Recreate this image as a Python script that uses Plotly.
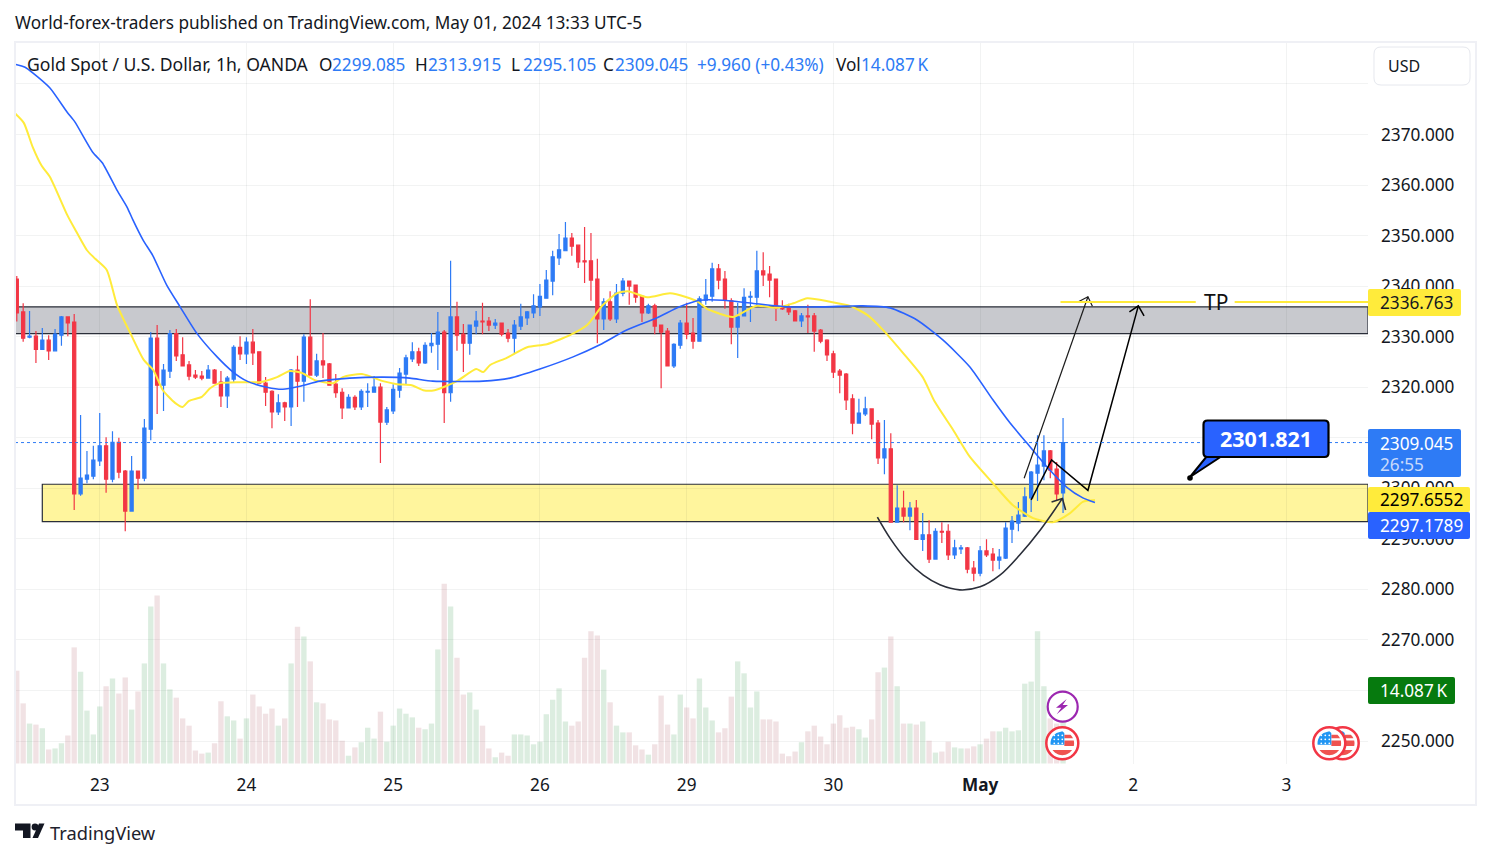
import math
import plotly.graph_objects as go

# hourly candles
opens = [
    2341.4, 2334.9, 2329.9, 2330.1, 2327.5, 2329.3, 2327.2, 2330.3, 2333.9, 2332.9,
    2298.9, 2301.8, 2302.4, 2305.4, 2308.4, 2301.8, 2309.1, 2303.4, 2295.5, 2303.4,
    2302.0, 2311.7, 2329.7, 2320.4, 2323.2, 2330.6, 2326.4, 2324.4, 2322.4, 2322.2,
    2321.8, 2323.4, 2321.0, 2318.3, 2321.6, 2327.9, 2326.6, 2328.9, 2327.0, 2320.8,
    2319.2, 2315.1, 2316.9, 2316.1, 2323.4, 2321.2, 2329.9, 2322.4, 2325.2, 2324.6,
    2320.6, 2319.0, 2315.9, 2318.0, 2316.1, 2319.0, 2319.0, 2320.0, 2313.1, 2315.3,
    2319.4, 2322.6, 2325.6, 2327.0, 2324.8, 2328.2, 2328.5, 2330.9, 2318.9, 2333.9,
    2330.5, 2328.7, 2332.1, 2333.1, 2333.1, 2332.3, 2332.7, 2330.7, 2329.7, 2332.1,
    2333.7, 2334.7, 2335.9, 2337.6, 2341.0, 2345.6, 2347.0, 2349.5, 2348.1, 2345.0,
    2345.0, 2341.4, 2333.5, 2336.9, 2333.5, 2338.6, 2341.0, 2340.2, 2338.0, 2334.7,
    2336.1, 2332.3, 2331.1, 2324.2, 2328.3, 2332.7, 2330.7, 2329.1, 2337.2, 2338.0,
    2343.4, 2341.4, 2337.1, 2331.9, 2334.1, 2337.8, 2337.8, 2343.0, 2342.4, 2341.4,
    2335.7, 2335.9, 2335.1, 2333.1, 2334.1, 2334.1, 2331.3, 2329.3, 2326.6, 2323.2,
    2322.6, 2317.7, 2312.9, 2314.7, 2315.7, 2312.9, 2306.0, 2307.8, 2293.3, 2296.1,
    2294.5, 2296.1, 2289.9, 2290.8, 2286.0, 2291.5, 2291.5, 2286.8, 2288.0, 2288.2,
    2284.2, 2283.2, 2287.6, 2287.0, 2285.8, 2286.2, 2291.9, 2293.1, 2294.5, 2298.1,
    2303.0, 2304.4, 2307.4, 2303.8, 2299.085,
]
highs = [
    2342.0, 2336.6, 2335.1, 2331.1, 2331.7, 2330.3, 2331.5, 2334.1, 2333.9, 2334.5,
    2314.5, 2307.4, 2308.4, 2314.9, 2310.1, 2311.3, 2310.0, 2303.6, 2306.4, 2303.4,
    2313.7, 2330.9, 2332.3, 2324.6, 2331.3, 2331.5, 2329.9, 2325.2, 2323.4, 2323.2,
    2324.4, 2323.6, 2323.2, 2322.2, 2328.3, 2330.1, 2329.9, 2331.5, 2327.0, 2322.0,
    2319.4, 2318.6, 2317.1, 2323.6, 2326.2, 2330.5, 2337.4, 2326.6, 2330.7, 2324.8,
    2322.6, 2319.8, 2318.6, 2318.4, 2319.6, 2320.8, 2322.2, 2320.8, 2316.1, 2320.6,
    2323.8, 2326.4, 2328.9, 2327.8, 2328.9, 2330.7, 2334.9, 2331.3, 2345.0, 2336.9,
    2332.5, 2332.3, 2335.1, 2336.7, 2333.9, 2333.5, 2332.7, 2331.5, 2333.3, 2336.5,
    2335.1, 2338.4, 2340.4, 2343.2, 2347.0, 2350.3, 2352.7, 2350.5, 2348.1, 2351.7,
    2350.5, 2345.4, 2337.6, 2339.0, 2340.4, 2341.6, 2341.0, 2340.2, 2338.0, 2336.5,
    2336.5, 2332.3, 2331.7, 2328.7, 2333.3, 2336.7, 2333.7, 2338.0, 2341.4, 2344.6,
    2344.4, 2343.0, 2337.6, 2336.7, 2339.6, 2339.0, 2347.0, 2346.7, 2344.0, 2341.4,
    2337.2, 2336.5, 2335.3, 2334.7, 2336.3, 2334.7, 2331.5, 2329.5, 2327.2, 2323.6,
    2322.8, 2318.6, 2317.7, 2318.1, 2315.7, 2313.5, 2313.5, 2310.9, 2300.6, 2299.5,
    2297.3, 2297.7, 2295.1, 2293.7, 2292.1, 2293.3, 2292.9, 2289.8, 2288.8, 2288.4,
    2285.6, 2288.6, 2289.9, 2288.2, 2288.0, 2293.3, 2294.5, 2297.3, 2300.2, 2303.4,
    2310.5, 2310.5, 2307.6, 2305.2, 2313.915,
]
lows = [
    2333.0, 2329.0, 2329.7, 2324.8, 2327.5, 2325.4, 2327.2, 2328.2, 2330.1, 2295.7,
    2298.5, 2301.0, 2301.8, 2304.4, 2299.1, 2301.2, 2302.0, 2291.5, 2295.5, 2299.8,
    2301.4, 2309.5, 2314.7, 2315.3, 2321.8, 2325.2, 2324.2, 2321.4, 2321.6, 2321.4,
    2321.8, 2320.8, 2316.1, 2315.9, 2321.0, 2325.4, 2324.6, 2324.4, 2320.8, 2316.3,
    2311.9, 2314.5, 2313.3, 2312.3, 2316.1, 2317.1, 2322.4, 2322.0, 2321.8, 2320.4,
    2317.9, 2313.7, 2315.9, 2315.5, 2315.5, 2316.1, 2319.0, 2305.0, 2312.5, 2314.7,
    2317.9, 2320.6, 2325.0, 2324.2, 2324.6, 2326.8, 2323.4, 2312.9, 2317.1, 2327.2,
    2323.0, 2326.4, 2330.5, 2330.5, 2331.1, 2331.5, 2330.1, 2328.9, 2326.6, 2331.3,
    2332.3, 2333.7, 2334.1, 2337.5, 2338.2, 2344.2, 2347.0, 2346.0, 2343.6, 2340.6,
    2337.1, 2328.7, 2331.3, 2333.1, 2332.7, 2338.0, 2336.3, 2336.7, 2332.9, 2334.5,
    2330.5, 2319.8, 2324.2, 2323.8, 2327.6, 2329.5, 2327.6, 2329.1, 2336.3, 2336.9,
    2339.4, 2335.5, 2328.5, 2325.8, 2334.1, 2332.9, 2335.9, 2340.0, 2337.8, 2333.1,
    2335.3, 2334.3, 2333.1, 2331.9, 2330.7, 2327.0, 2328.7, 2325.2, 2321.8, 2318.8,
    2315.5, 2310.7, 2312.9, 2314.3, 2309.7, 2304.8, 2302.8, 2293.3, 2293.3, 2293.3,
    2291.7, 2289.9, 2287.6, 2285.2, 2286.0, 2289.2, 2285.8, 2286.0, 2287.0, 2283.2,
    2281.6, 2282.6, 2286.4, 2283.6, 2284.0, 2286.0, 2289.2, 2291.5, 2294.3, 2295.3,
    2297.5, 2301.6, 2302.0, 2297.7, 2295.105,
]
closes = [
    2334.7, 2329.7, 2330.1, 2327.5, 2329.3, 2327.2, 2330.5, 2333.9, 2332.7, 2298.9,
    2302.0, 2302.6, 2305.6, 2308.4, 2301.8, 2309.1, 2303.2, 2295.5, 2303.4, 2302.0,
    2311.9, 2329.7, 2320.4, 2323.4, 2330.6, 2326.2, 2324.2, 2322.2, 2322.0, 2321.8,
    2323.4, 2320.8, 2318.3, 2321.8, 2327.9, 2326.6, 2328.9, 2326.8, 2320.8, 2319.0,
    2315.1, 2316.9, 2316.1, 2323.4, 2321.2, 2329.9, 2322.4, 2325.2, 2324.4, 2320.4,
    2318.9, 2315.9, 2318.0, 2316.1, 2319.2, 2319.2, 2320.0, 2313.1, 2315.5, 2319.6,
    2322.8, 2325.8, 2327.0, 2324.8, 2328.3, 2328.7, 2330.9, 2318.9, 2333.9, 2330.3,
    2328.7, 2332.3, 2333.1, 2332.9, 2332.3, 2332.7, 2330.5, 2329.7, 2332.3, 2333.9,
    2334.9, 2336.1, 2338.0, 2341.2, 2345.8, 2347.2, 2349.5, 2347.9, 2344.8, 2344.8,
    2341.2, 2333.5, 2336.9, 2333.5, 2338.6, 2341.0, 2340.0, 2337.8, 2334.7, 2336.1,
    2332.1, 2330.9, 2324.2, 2328.5, 2332.7, 2330.5, 2329.1, 2337.5, 2338.2, 2343.4,
    2341.2, 2337.2, 2331.9, 2333.9, 2337.8, 2338.0, 2343.0, 2342.2, 2341.2, 2335.7,
    2335.5, 2334.9, 2333.1, 2334.1, 2333.9, 2331.1, 2329.1, 2326.4, 2323.0, 2322.4,
    2317.5, 2312.9, 2314.9, 2315.7, 2312.7, 2306.0, 2307.8, 2293.3, 2296.1, 2294.5,
    2296.1, 2289.9, 2290.8, 2286.0, 2291.5, 2291.3, 2286.8, 2288.2, 2288.2, 2284.0,
    2283.2, 2287.6, 2286.8, 2285.8, 2286.4, 2292.1, 2293.5, 2294.7, 2298.3, 2303.2,
    2304.6, 2307.4, 2303.6, 2298.9, 2309.045,
]
# volume in thousands
volumes = [
    17.9, 11.6, 7.7, 7.5, 6.8, 2.7, 2.9, 3.9, 5.4, 22.4,
    17.7, 10.2, 5.6, 11.0, 14.9, 16.4, 13.5, 16.6, 10.4, 13.9,
    19.3, 30.3, 32.4, 19.3, 14.3, 12.7, 8.7, 7.3, 2.5, 1.9,
    2.1, 3.9, 12.0, 9.1, 8.3, 4.8, 8.7, 13.3, 11.0, 9.6,
    10.6, 7.3, 8.7, 19.3, 26.4, 24.5, 19.7, 11.8, 11.6, 8.5,
    8.3, 4.4, 1.5, 3.1, 4.1, 6.9, 4.8, 10.0, 4.2, 7.3,
    10.6, 9.6, 8.9, 6.9, 6.6, 7.7, 22.0, 34.7, 30.3, 20.4,
    13.3, 13.7, 10.4, 7.3, 2.9, 1.2, 2.1, 1.5, 5.6, 5.6,
    5.4, 3.7, 4.2, 9.5, 12.3, 14.5, 8.1, 7.3, 8.1, 20.4,
    25.5, 24.7, 18.1, 11.8, 7.3, 6.0, 6.0, 3.5, 2.7, 1.7,
    3.7, 13.1, 7.5, 5.6, 13.3, 10.8, 8.7, 16.4, 10.8, 8.3,
    6.0, 6.8, 12.9, 19.7, 17.4, 10.8, 13.9, 8.5, 8.5, 8.1,
    1.9, 1.4, 2.3, 4.1, 6.2, 7.3, 5.2, 3.7, 7.7, 9.3,
    6.9, 7.1, 6.6, 5.0, 8.5, 17.6, 18.5, 24.5, 14.9, 7.7,
    7.7, 7.5, 8.1, 4.4, 2.1, 2.3, 4.2, 3.1, 2.9, 2.9,
    3.3, 3.7, 4.8, 6.2, 6.2, 6.9, 6.2, 6.4, 15.4, 15.8,
    25.5, 14.9, 8.7, 7.7, 14.087,
]

# the two moving averages
slow_ma_x = [
    -0.3, 1.3, 2.5, 5.2, 7.9, 9.1, 11.9, 13.4, 15.7, 17.3, 18.2, 19.8, 21.3, 23.5,
    25.6, 28.2, 31.4, 33.9, 36.1, 39.2, 41.7, 44.4, 47.5, 52.2, 57.4, 61.6, 65.2,
    73.1, 77.3, 82.0, 87.2, 91.4, 95.6, 100.3, 103.9, 107.1, 110.7, 116.0, 120.7,
    126.4, 132.6, 136.9, 141.1, 145.2, 149.4, 153.0, 155.7, 158.3, 161.5, 164.6,
    167.1, 169.0,
]
slow_ma = [
    2383.9, 2383.3, 2382.2, 2379.2, 2374.4, 2372.5, 2366.5, 2364.4, 2359.0, 2355.6,
    2353.1, 2349.1, 2346.1, 2340.2, 2335.9, 2330.7, 2326.0, 2323.0, 2321.2, 2320.0,
    2319.6, 2320.2, 2321.2, 2321.8, 2322.0, 2321.8, 2321.2, 2321.2, 2321.8, 2323.6,
    2326.0, 2328.4, 2331.3, 2333.7, 2335.9, 2337.2, 2337.2, 2336.5, 2335.9, 2335.9,
    2336.1, 2335.7, 2333.3, 2329.3, 2324.0, 2317.5, 2312.9, 2309.0, 2304.2, 2300.2,
    2298.1, 2297.18,
]
fast_ma_x = [
    -0.3, 1.1, 2.5, 3.9, 5.2, 7.9, 9.1, 11.0, 12.3, 14.1, 15.7, 18.1, 19.9, 21.4,
    22.9, 24.8, 26.0, 27.0, 29.0, 30.3, 31.8, 35.0, 38.1, 40.8, 42.8, 44.7, 46.7,
    49.6, 51.1, 54.1, 57.4, 59.6, 61.9, 63.7, 65.5, 69.0, 72.0, 73.1, 74.2, 76.8,
    80.0, 83.1, 86.7, 89.4, 91.9, 94.1, 95.8, 98.8, 102.4, 105.0, 106.8, 108.2,
    111.3, 112.3, 116.0, 119.1, 121.7, 123.9, 127.5, 130.6, 133.3, 135.8, 138.9,
    142.0, 143.9, 146.8, 149.4, 153.0, 156.1, 159.3, 162.4, 165.1, 167.1, 169.0,
]
fast_ma = [
    2374.2, 2372.3, 2367.5, 2363.8, 2361.6, 2354.1, 2351.3, 2347.1, 2345.4, 2343.2,
    2336.3, 2329.9, 2325.4, 2323.4, 2319.4, 2316.9, 2316.1, 2317.3, 2318.1, 2319.8,
    2320.8, 2321.0, 2321.0, 2322.0, 2323.2, 2322.8, 2321.4, 2320.8, 2322.0, 2322.6,
    2321.2, 2320.6, 2320.4, 2319.4, 2319.4, 2321.2, 2323.6, 2323.0, 2324.4, 2325.8,
    2327.9, 2328.5, 2330.3, 2332.3, 2336.3, 2338.6, 2339.0, 2337.8, 2338.6, 2337.8,
    2336.9, 2335.5, 2334.1, 2333.9, 2336.1, 2335.7, 2336.6, 2337.6, 2336.9, 2336.1,
    2334.3, 2331.3, 2326.8, 2322.0, 2317.1, 2311.5, 2306.2, 2301.0, 2296.7, 2294.1,
    2293.3, 2295.1, 2297.3, 2297.66,
]

# hand drawn things on the chart
bowl_x = [134.9, 136.9, 139.5, 142.1, 144.7, 147.8, 151.0, 154.1, 157.2, 160.4, 163.9]
bowl_y = [2294.3, 2290.1, 2285.8, 2282.8, 2280.9, 2279.9, 2280.5, 2282.8, 2286.8, 2291.7, 2298.0]
bowl_head_x = [162.2, 163.9, 164.4]
bowl_head_y = [2297.3, 2298.0, 2295.7]
thin_arrow_x = [157.9, 167.9, None, 166.4, 167.9, 168.6]
thin_arrow_y = [2302.0, 2337.9, None, 2336.9, 2337.9, 2336.0]
zigzag_x = [159.0, 162.2, 167.9, 175.8, None, 174.4, 175.8, 176.7]
zigzag_y = [2297.7, 2305.6, 2299.6, 2336.1, None, 2334.9, 2336.1, 2334.1]

day_ticks = [13, 36, 59, 82, 105, 128, 151, 175, 199]
day_labels = ["23", "24", "25", "26", "29", "30", "<b>May</b>", "2", "3"]
price_ticks = [2250, 2260, 2270, 2280, 2290, 2300, 2310, 2320, 2330, 2340, 2350, 2360, 2370, 2380]
price_labels = ["2250.000", "", "2270.000", "2280.000", "2290.000", "2300.000", "", "2320.000",
                "2330.000", "2340.000", "2350.000", "2360.000", "2370.000", ""]

BLUE = "#2e7bf5"
DEEP_BLUE = "#2962ff"
RED = "#f23645"
YELLOW = "#ffeb3b"
INK = "#131722"
DRAW = "#2a2e39"
GRID = "rgba(42,46,57,0.06)"
FONT = "Noto Sans"
LEFT, RIGHT, TOP, BOTTOM = 15, 1368, 42, 764


def px(x):
    return (x - LEFT) / (RIGHT - LEFT)


def py(y):
    return (BOTTOM - y) / (BOTTOM - TOP)


def label(x, y, text, size=17.2, color=INK, anchor="left"):
    return dict(xref="paper", yref="paper", x=px(x), y=py(y), text=text, showarrow=False,
                xanchor=anchor, yanchor="middle", align=anchor,
                font=dict(family=FONT, size=size, color=color), borderpad=0, borderwidth=0)


def box(x0, y0, x1, y1, fill, line="rgba(0,0,0,0)", width=0, r=0):
    if r == 0:
        return dict(type="rect", xref="paper", yref="paper", layer="above",
                    x0=px(x0), y0=py(y0), x1=px(x1), y1=py(y1),
                    fillcolor=fill, line=dict(color=line, width=width))
    corners = [
        (x0 + r, y0), (x1 - r, y0), (x1, y0), (x1, y0 + r),
        (x1, y1 - r), (x1, y1), (x1 - r, y1),
        (x0 + r, y1), (x0, y1), (x0, y1 - r),
        (x0, y0 + r), (x0, y0), (x0 + r, y0),
    ]
    p = [f"{px(a):.5f},{py(b):.5f}" for a, b in corners]
    path = (f"M {p[0]} L {p[1]} Q {p[2]} {p[3]} L {p[4]} Q {p[5]} {p[6]} "
            f"L {p[7]} Q {p[8]} {p[9]} L {p[10]} Q {p[11]} {p[12]} Z")
    return dict(type="path", xref="paper", yref="paper", layer="above", path=path,
                fillcolor=fill, line=dict(color=line, width=width))


def poly(points, fill, line="rgba(0,0,0,0)", width=0):
    path = "M " + " L ".join(f"{px(a):.5f},{py(b):.5f}" for a, b in points) + " Z"
    return dict(type="path", xref="paper", yref="paper", layer="above", path=path,
                fillcolor=fill, line=dict(color=line, width=width))


def disc(cx, cy, r, fill, line="rgba(0,0,0,0)", width=0):
    return dict(type="circle", xref="paper", yref="paper", layer="above",
                x0=px(cx - r), y0=py(cy - r), x1=px(cx + r), y1=py(cy + r),
                fillcolor=fill, line=dict(color=line, width=width))


def band(cx, cy, r, y0, y1, x0, x1, fill):
    # a strip of the flag, cut off by the round badge
    right, left = [], []
    for i in range(9):
        y = y0 + (y1 - y0) * i / 8
        half = math.sqrt(max(r * r - y * y, 0))
        right.append((cx + min(x1, half), cy + y))
        left.append((cx + max(x0, -half), cy + y))
    return poly(right + left[::-1], fill)


def us_flag(cx, cy):
    r = 11.8
    parts = [disc(cx, cy, 16, "white", RED, 2.5)]
    parts.append(band(cx, cy, r, -8.5, -5, 2, 12, "#ef5350"))
    parts.append(band(cx, cy, r, -2.7, 2.7, 2, 12, "#ef5350"))
    parts.append(band(cx, cy, r, 6.7, 12, -12, 12, "#ef5350"))
    parts.append(band(cx, cy, r, -12, 1.5, -12, 2, "#2196f3"))
    for dx in (-8, -4, 0):
        for dy in (-8, -4, 0):
            parts.append(disc(cx + dx, cy + dy, 0.9, "white"))
    return parts


fig = go.Figure()

up = [c >= o for o, c in zip(opens, closes)]
bar_colors = ["rgba(34,139,60,0.155)" if u else "rgba(150,40,50,0.135)" for u in up]
x = list(range(len(opens)))

fig.add_trace(go.Bar(x=x, y=volumes, marker=dict(color=bar_colors, line_width=0), yaxis="y", hoverinfo="skip"))
fig.add_trace(go.Candlestick(
    x=x, open=opens, high=highs, low=lows, close=closes, yaxis="y2", whiskerwidth=0,
    increasing=dict(line=dict(color=BLUE, width=1.2), fillcolor=BLUE),
    decreasing=dict(line=dict(color=RED, width=1.2), fillcolor=RED),
    hoverinfo="skip",
))
fig.add_trace(go.Scatter(x=fast_ma_x, y=fast_ma, yaxis="y2", mode="lines", hoverinfo="skip",
                         line=dict(color=YELLOW, width=2, shape="spline", smoothing=0.6)))
fig.add_trace(go.Scatter(x=slow_ma_x, y=slow_ma, yaxis="y2", mode="lines", hoverinfo="skip",
                         line=dict(color=DEEP_BLUE, width=1.6, shape="spline", smoothing=0.6)))
fig.add_trace(go.Scatter(x=bowl_x, y=bowl_y, yaxis="y2", mode="lines", hoverinfo="skip",
                         line=dict(color=DRAW, width=1.6, shape="spline")))
fig.add_trace(go.Scatter(x=bowl_head_x, y=bowl_head_y, yaxis="y2", mode="lines", hoverinfo="skip",
                         line=dict(color=DRAW, width=1.6)))
fig.add_trace(go.Scatter(x=thin_arrow_x, y=thin_arrow_y, yaxis="y2", mode="lines", hoverinfo="skip",
                         line=dict(color="#1c1c1c", width=1.2)))
fig.add_trace(go.Scatter(x=zigzag_x, y=zigzag_y, yaxis="y2", mode="lines", hoverinfo="skip",
                         line=dict(color="black", width=1.5)))

x_end = 211.8
shapes = [
    # supply and demand zones
    dict(type="rect", xref="x", yref="y2", layer="below", x0=-0.28, x1=x_end, y0=2330.6, y1=2335.9,
         fillcolor="#c8c9ce", line=dict(color=DRAW, width=1.2)),
    dict(type="rect", xref="x", yref="y2", layer="below", x0=4, x1=x_end, y0=2293.4, y1=2300.8,
         fillcolor="#fff59d", line=dict(color=DRAW, width=1.2)),
    # last price
    dict(type="line", xref="x", yref="y2", layer="above", x0=-0.28, x1=x_end, y0=2309.045, y1=2309.045,
         line=dict(color=BLUE, width=1, dash="dot")),
    # TP level, broken around its text
    dict(type="line", xref="x", yref="y2", layer="above", x0=163.6, x1=184.8, y0=2336.86, y1=2336.86,
         line=dict(color=YELLOW, width=2)),
    dict(type="line", xref="x", yref="y2", layer="above", x0=190.9, x1=x_end, y0=2336.86, y1=2336.86,
         line=dict(color=YELLOW, width=2)),
    # frame around the whole chart
    box(15, 42, 1476, 805, "rgba(0,0,0,0)", "#eff0f5", 2),
    # price scale badges
    box(1368, 289, 1461, 316, YELLOW, r=2),
    box(1368, 429, 1461, 477, BLUE, r=2),
    box(1368, 487, 1470, 512, YELLOW, r=2),
    box(1368, 512, 1470, 539, DEEP_BLUE, r=2),
    box(1368, 677, 1455, 704, "#067a0e", r=2),
    # currency button
    box(1374, 47, 1470, 85, "white", "#e6e8ee", 1, r=7),
    # price note
    poly([(1222, 456), (1190, 477), (1207, 456)], DEEP_BLUE, "black", 2),
    box(1203.5, 420.5, 1328.5, 457, DEEP_BLUE, "black", 2.2, r=4),
    disc(1190, 478, 2.8, "black"),
    # events
    disc(1062.7, 706.7, 15, "white", "#9c27b0", 2.2),
    poly([(1066.7, 699), (1056, 707.7), (1061.3, 707.7), (1056.7, 714.3), (1068, 705), (1062.7, 705)], "#9c27b0"),
    # TradingView logo
    poly([(15, 823.5), (30.5, 823.5), (30.5, 838), (23, 838), (23, 830.5), (15, 830.5)], INK),
    disc(35, 827, 3.4, INK),
    poly([(32.5, 838), (39, 823.5), (44.5, 823.5), (38, 838)], INK),
]
shapes += us_flag(1062.3, 743.3)
shapes += us_flag(1342.7, 743.3)
shapes += us_flag(1329.3, 743.3)

annotations = [
    label(15, 23, "World-forex-traders published on TradingView.com, May 01, 2024 13:33 UTC-5"),
    label(27, 64, "Gold Spot / U.S. Dollar, 1h, OANDA", size=17.6),
    label(319, 64, "O"),
    label(332, 64, "2299.085", color=BLUE),
    label(415, 64, "H"),
    label(428, 64, "2313.915", color=BLUE),
    label(511, 64, "L"),
    label(523, 64, "2295.105", color=BLUE),
    label(603, 64, "C"),
    label(615, 64, "2309.045", color=BLUE),
    label(697, 64, "+9.960 (+0.43%)", color=BLUE),
    label(836, 64, "Vol"),
    label(861, 64, "14.087\u2009K", color=BLUE),
    label(1388, 66, "USD", size=16),
    label(1204, 302, "TP", size=21, color="#111111"),
    label(1266, 438, "<b>2301.821</b>", size=21.5, color="white", anchor="center"),
    label(1380, 302.5, "2336.763"),
    label(1380, 443, "2309.045", color="white"),
    label(1380, 464, "26:55", color="#c9dafb"),
    label(1380, 500, "2297.6552", color="black"),
    label(1380, 525.5, "2297.1789", color="white"),
    label(1380, 690.5, "14.087\u2009K", color="white"),
    label(50, 832, "TradingView", size=18.3, color="#1e222d"),
]

fig.update_layout(
    width=1491,
    height=858,
    margin=dict(l=LEFT, r=1491 - RIGHT, t=TOP, b=858 - BOTTOM, autoexpand=False),
    paper_bgcolor="white",
    plot_bgcolor="white",
    showlegend=False,
    hovermode=False,
    bargap=0.16,
    boxgap=0.3,
    shapes=shapes,
    annotations=annotations,
    font=dict(family=FONT, size=17.2, color=INK),
    xaxis=dict(
        range=[-0.28, x_end], tickmode="array", tickvals=day_ticks, ticktext=day_labels,
        showgrid=True, gridcolor=GRID, gridwidth=1, zeroline=False, showline=False,
        ticks="", ticklabelstandoff=9, rangeslider=dict(visible=False),
    ),
    yaxis=dict(range=[-0.1, 139.2], visible=False, showgrid=False, zeroline=False, fixedrange=True),
    yaxis2=dict(
        range=[2245.45, 2388.3], overlaying="y", side="right", tickmode="array",
        tickvals=price_ticks, ticktext=price_labels, showgrid=True, gridcolor=GRID, gridwidth=1,
        zeroline=False, showline=False, ticks="", ticklabelstandoff=12,
    ),
)

fig.write_html("out.html", config={"displayModeBar": False},
               post_script="document.body.style.margin='0';")
